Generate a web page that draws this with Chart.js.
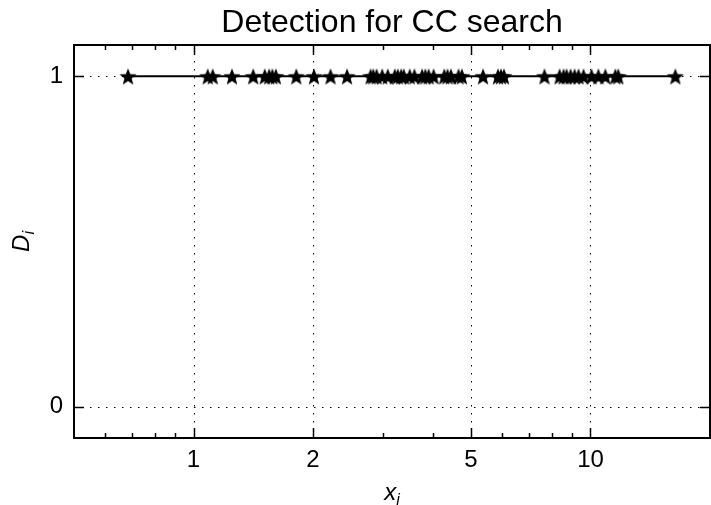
<!DOCTYPE html>
<html lang="en">
<head>
<meta charset="UTF-8">
<title>Detection for CC search</title>
<script src="https://cdn.jsdelivr.net/npm/chart.js"></script>
<style>
  html, body { margin: 0; padding: 0; background: #fff; }
  #wrap { width: 711px; height: 505px; }
</style>
</head>
<body>
<div id="wrap"><canvas id="myChart" width="711" height="505"></canvas></div>
<script>
// data
const xValues = [0.684, 1.086, 1.118, 1.250, 1.414, 1.512, 1.551, 1.580, 1.612, 1.815,
  2.011, 2.214, 2.436, 2.793, 2.837, 2.892, 2.988, 3.086, 3.214, 3.270,
  3.335, 3.386, 3.505, 3.601, 3.765, 3.837, 3.911, 4.025, 4.282, 4.364,
  4.451, 4.651, 4.743, 5.362, 5.847, 5.949, 6.053, 7.656, 8.36, 8.556,
  8.706, 8.910, 9.118, 9.331, 9.605, 10.06, 10.47, 10.90, 11.55, 11.75, 16.36];
const detected = [1, 1, 1, 1, 1, 1, 1, 1, 1, 1,
  1, 1, 1, 1, 1, 1, 1, 1, 1, 1,
  1, 1, 1, 1, 1, 1, 1, 1, 1, 1,
  1, 1, 1, 1, 1, 1, 1, 1, 1, 1,
  1, 1, 1, 1, 1, 1, 1, 1, 1, 1, 1];
const xTicks = [1, 2, 5, 10];
const xMinorTicks = [0.6, 0.7, 0.8, 0.9, 3, 4, 6, 7, 8, 9];
const yTicks = [0, 1];
const titulo = 'Detection for CC search';

const fonte = '"Liberation Sans", Arial, Helvetica, sans-serif';

// filled star marker
function fazEstrela(r) {
  const c = document.createElement('canvas');
  const s = Math.ceil(r * 2 + 2);
  c.width = s; c.height = s;
  const g = c.getContext('2d');
  g.beginPath();
  for (let i = 0; i < 10; i++) {
    const raio = i % 2 === 0 ? r : r * 0.42;
    const ang = -Math.PI / 2 + i * Math.PI / 5;
    const px = s / 2 + raio * Math.cos(ang);
    const py = s / 2 + raio * Math.sin(ang) + r * 0.1;
    if (i === 0) g.moveTo(px, py); else g.lineTo(px, py);
  }
  g.closePath();
  g.fillStyle = '#000';
  g.fill();
  return c;
}
const estrela = fazEstrela(9);

// frame, inward ticks, dotted grid, title and subscripted axis titles
const moldura = {
  id: 'moldura',
  beforeDatasetsDraw(chart) {
    const { ctx, chartArea: a, scales } = chart;
    const x = scales.x, y = scales.y;
    ctx.save();
    ctx.strokeStyle = '#000';
    ctx.lineWidth = 1;
    ctx.setLineDash([1.5, 6.5]);
    xTicks.forEach(v => {
      const px = Math.round(x.getPixelForValue(v)) + 0.5;
      ctx.beginPath(); ctx.moveTo(px, a.top); ctx.lineTo(px, a.bottom); ctx.stroke();
    });
    yTicks.forEach(v => {
      const py = Math.round(y.getPixelForValue(v)) + 0.5;
      ctx.beginPath(); ctx.moveTo(a.left, py); ctx.lineTo(a.right, py); ctx.stroke();
    });
    ctx.setLineDash([]);
    ctx.lineWidth = 1.5;
    const marca = (v, len) => {
      const px = Math.round(x.getPixelForValue(v)) + 0.5;
      ctx.beginPath();
      ctx.moveTo(px, a.bottom); ctx.lineTo(px, a.bottom - len);
      ctx.moveTo(px, a.top); ctx.lineTo(px, a.top + len);
      ctx.stroke();
    };
    xTicks.forEach(v => marca(v, 10));
    xMinorTicks.forEach(v => marca(v, 5));
    yTicks.forEach(v => {
      const py = Math.round(y.getPixelForValue(v)) + 0.5;
      ctx.beginPath();
      ctx.moveTo(a.left, py); ctx.lineTo(a.left + 10, py);
      ctx.moveTo(a.right, py); ctx.lineTo(a.right - 10, py);
      ctx.stroke();
    });
    ctx.lineWidth = 2;
    ctx.strokeRect(a.left, a.top, a.right - a.left, a.bottom - a.top);
    ctx.restore();
  },
  afterDraw(chart) {
    const { ctx, chartArea: a } = chart;
    ctx.save();
    ctx.fillStyle = '#000';
    ctx.textBaseline = 'alphabetic';
    const cx = (a.left + a.right) / 2;
    // title, centred over the plot area
    ctx.textAlign = 'center';
    ctx.font = '32px ' + fonte;
    ctx.fillText(titulo, cx, 32);
    ctx.textAlign = 'left';
    // x_i
    ctx.font = 'italic 24px ' + fonte;
    const wx = ctx.measureText('x').width;
    ctx.font = 'italic 16px ' + fonte;
    const wi = ctx.measureText('i').width;
    let sx = cx - (wx + wi) / 2;
    ctx.font = 'italic 24px ' + fonte;
    ctx.fillText('x', sx, 500);
    ctx.font = 'italic 16px ' + fonte;
    ctx.fillText('i', sx + wx, 505);
    // D_i
    const cy = (a.top + a.bottom) / 2;
    ctx.translate(29, cy);
    ctx.rotate(-Math.PI / 2);
    ctx.font = 'italic 24px ' + fonte;
    const wd = ctx.measureText('D').width;
    sx = -(wd + wi) / 2;
    ctx.fillText('D', sx, 0);
    ctx.font = 'italic 16px ' + fonte;
    ctx.fillText('i', sx + wd, 5);
    ctx.restore();
  }
};

const ctx = document.getElementById('myChart');

const Grafico = new Chart(ctx, {
  type: 'line',
  data: {
    datasets: [{
      data: xValues.map((v, i) => ({ x: v, y: detected[i] })),
      borderColor: '#000',
      borderWidth: 2,
      pointStyle: estrela,
      pointRadius: 9,
      pointHoverRadius: 9,
      fill: false,
      tension: 0
    }]
  },
  plugins: [moldura],
  options: {
    responsive: false,
    animation: false,
    events: [],
    layout: { autoPadding: false, padding: { top: 45, right: 1, left: 0, bottom: 0 } },
    plugins: {
      legend: { display: false },
      tooltip: { enabled: false },
      title: { display: false }
    },
    scales: {
      x: {
        type: 'logarithmic',
        min: 0.5,
        max: 20,
        afterBuildTicks: s => { s.ticks = xTicks.map(v => ({ value: v })); },
        afterFit: s => { s.height = 67; },
        grid: { display: false, drawTicks: false },
        border: { display: false },
        ticks: {
          color: '#000',
          autoSkip: false,
          maxRotation: 0,
          padding: 8,
          font: { family: fonte, size: 24 },
          callback: v => String(v)
        }
      },
      y: {
        type: 'linear',
        min: -0.095,
        max: 1.095,
        afterBuildTicks: s => { s.ticks = yTicks.map(v => ({ value: v })); },
        afterFit: s => { s.width = 74; },
        grid: { display: false, drawTicks: false },
        border: { display: false },
        ticks: {
          color: '#000',
          padding: 11,
          font: { family: fonte, size: 24 },
          callback: v => String(v)
        }
      }
    }
  }
});
</script>
</body>
</html>
